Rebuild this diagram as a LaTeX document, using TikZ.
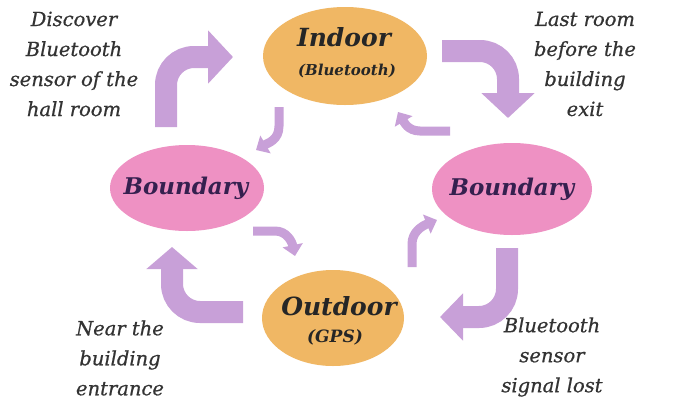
\documentclass[tikz,border=0pt]{standalone}
\usepackage{fontspec}
\setmainfont{DejaVu Serif}
\newfontfamily\notefont[FakeBold=0.7]{DejaVu Serif}
\usetikzlibrary{shapes.geometric,arrows.meta}
\definecolor{statefill}{HTML}{F0B764}
\definecolor{boundfill}{HTML}{EE91C3}
\definecolor{arrowpurple}{HTML}{C8A0D8}
\definecolor{labelgray}{HTML}{333333}
\definecolor{boundtext}{HTML}{35204F}
\begin{document}
\begin{tikzpicture}[x=1pt,y=-1pt,
  state/.style={ellipse, inner sep=0pt, draw=none},
  note/.style={align=center, font=\notefont\fontsize{19.5}{30}\selectfont\itshape, text=labelgray},
  bigtitle/.style={font=\fontsize{25}{28}\selectfont\bfseries\itshape, text=black!85},
  subtitle/.style={font=\fontsize{15}{18}\selectfont\bfseries\itshape, text=black!85},
  boundtitle/.style={font=\fontsize{23}{26}\selectfont\bfseries\itshape, text=boundtext},
  bigarrow/.style={draw=arrowpurple, line width=22pt, rounded corners=28pt,
    -{Triangle[length=25pt,width=52pt]}},
  smallarrow/.style={draw=arrowpurple, line width=9pt,
    -{Triangle[length=11pt,width=20pt]}},
]
\useasboundingbox (0,0) rectangle (678,405);
\fill[white] (0,0) rectangle (678,405);

% states
\node[state, fill=statefill, minimum width=164pt, minimum height=98pt] (indoor) at (345,56) {};
\node[state, fill=boundfill, minimum width=154pt, minimum height=86pt] (bleft) at (187,188) {};
\node[state, fill=boundfill, minimum width=160pt, minimum height=92pt] (bright) at (512,189) {};
\node[state, fill=statefill, minimum width=142pt, minimum height=96pt] (outdoor) at (333,318) {};

\node[bigtitle] (indoorT) at (344,37) {Indoor};
\node[subtitle] (indoorS) at (347,71) {(Bluetooth)};
\node[boundtitle] (bleftT) at (186,188) {Boundary};
\node[boundtitle] (brightT) at (512,189) {Boundary};
\node[bigtitle] (outdoorT) at (339,306) {Outdoor};
\node[subtitle, font=\fontsize{17}{20}\selectfont\bfseries\itshape] (outdoorS) at (335,337) {(GPS)};

% transition notes
\node[note] (n1) at (74,64) {Discover\\Bluetooth\\sensor of the\\hall room};
\node[note] (n2) at (585,64) {Last room\\before the\\building\\exit};
\node[note] (n3) at (120,358) {Near the\\building\\entrance};
\node[note] (n4) at (552,357) {Bluetooth\\sensor\\signal lost};

% arrow end points
\coordinate (a1s) at (166,127); \coordinate (a1e) at (233,57);
\coordinate (a2s) at (442,51);  \coordinate (a2e) at (508,118);
\coordinate (a7s) at (507,248); \coordinate (a7e) at (440,317);
\coordinate (a8s) at (243,312); \coordinate (a8e) at (172,247);

% main cycle arrows
\draw[bigarrow] (a1s) |- (a1e);
\draw[bigarrow] (a2s) -| (a2e);
\draw[bigarrow, -{Triangle[length=23pt,width=46pt]}] (a7s) |- (a7e);
\draw[bigarrow, -{Triangle[length=22pt,width=50pt]}] (a8s) -| (a8e);

% return arrows
\coordinate (s3s) at (279,107); \coordinate (s3e) at (256,150);
\coordinate (s4s) at (450,131); \coordinate (s4e) at (398,112);
\coordinate (s5s) at (253,231); \coordinate (s5e) at (295,256);
\coordinate (s6s) at (412,267); \coordinate (s6e) at (437,220);
\draw[smallarrow] (s3s) -- (279,126) .. controls (279,140) and (268,143) .. (s3e);
\draw[smallarrow] (s4s) -- (420,131) .. controls (408,131) and (404,122) .. (s4e);
\draw[smallarrow] (s5s) -- (275,231) .. controls (287,231) and (292,242) .. (s5e);
\draw[smallarrow] (s6s) -- (412,244) .. controls (412,232) and (422,226) .. (s6e);
\end{tikzpicture}
\end{document}
